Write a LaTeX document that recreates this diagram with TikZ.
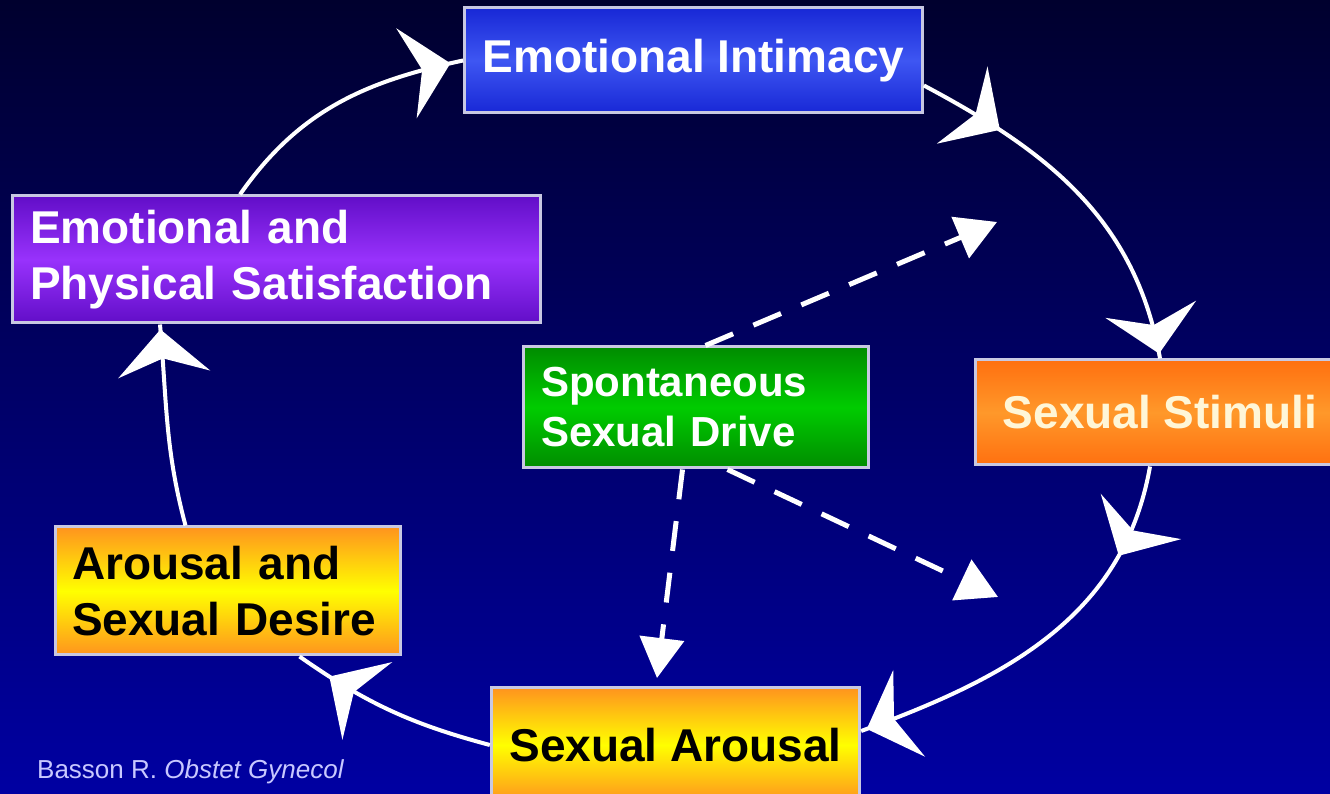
\documentclass[tikz,border=0pt]{standalone}
\usepackage{fontspec}
\setmainfont{Liberation Sans}
\usepackage{xcolor}
\usetikzlibrary{arrows.meta,decorations.markings}

\definecolor{navytop}{RGB}{0,0,46}
\definecolor{navybot}{RGB}{0,0,162}
\definecolor{eiedge}{RGB}{24,40,214}
\definecolor{eimid}{RGB}{62,86,242}
\definecolor{epsedge}{RGB}{98,14,200}
\definecolor{epsmid}{RGB}{152,50,252}
\definecolor{ssdedge}{RGB}{0,140,0}
\definecolor{ssdmid}{RGB}{0,204,0}
\definecolor{ssedge}{RGB}{255,112,16}
\definecolor{ssmid}{RGB}{255,152,42}
\definecolor{warmedge}{RGB}{255,148,30}
\definecolor{warmmid}{RGB}{255,255,0}
\definecolor{boxline}{RGB}{200,200,226}
\definecolor{citetext}{RGB}{200,200,255}
\definecolor{cream}{RGB}{255,246,215}

\begin{document}
\begin{tikzpicture}[x=1pt, y=1pt,
    stage/.style={draw=boxline, line width=3pt, inner xsep=18pt, inner ysep=0pt,
      font=\fontsize{46}{56}\selectfont\bfseries},
    cycleline/.style={draw=white, line width=4pt},
    headat/.style={postaction={decorate, decoration={markings,
      mark=at position #1 with {\arrow{Stealth[length=45pt, width=92pt, inset=16pt]}}}}},
    driveline/.style={draw=white, line width=5pt, dash pattern=on 30pt off 22pt,
      -{Triangle[length=40pt, width=44pt]}},
    cite/.style={text=citetext, font=\fontsize{26}{30}\selectfont, inner sep=0pt}]
    % page and background
    \useasboundingbox (0,0) rectangle (1330,794);
    \shade[top color=navytop, bottom color=navybot] (0,0) rectangle (1330,794);

    % stages of the cycle
    \node[stage, text=white, top color=eiedge, bottom color=eiedge, middle color=eimid,
      minimum width=445pt, minimum height=105pt] (EI) at (693.5,733.5) {Emotional Intimacy};
    \node[stage, text=white, top color=epsedge, bottom color=epsedge, middle color=epsmid,
      minimum width=528pt, minimum height=127pt, text width=492pt, align=left]
      (EPS) at (276,534.5) {Emotional and\\Physical Satisfaction};
    \node[stage, text=cream, top color=ssedge, bottom color=ssedge, middle color=ssmid,
      minimum width=370pt, minimum height=105pt] (SS) at (1160,381.5) {Sexual Stimuli};
    \node[stage, text=black, top color=warmedge, bottom color=warmedge, middle color=warmmid,
      minimum width=345pt, minimum height=128pt, inner xsep=17pt, text width=311pt, align=left]
      (AD) at (227.5,203) {Arousal and\\Sexual Desire};
    \node[stage, text=black, top color=warmedge, bottom color=warmedge, middle color=warmmid,
      minimum width=363pt, minimum height=114pt] (SA) at (675.5,49) {Sexual Arousal};

    % drive in the middle
    \node[stage, text=white, top color=ssdedge, bottom color=ssdedge, middle color=ssdmid,
      minimum width=345pt, minimum height=121pt, text width=309pt, align=left,
      font=\fontsize{42}{50}\selectfont\bfseries]
      (SSD) at (695.5,386.5) {Spontaneous\\Sexual Drive};

    % the cycle
    \draw[cycleline, headat=-13pt] ([xshift=-36pt]EPS.north) to[out=55, in=192] (EI.west);
    \draw[cycleline, headat=88pt, headat=-5pt] ([yshift=-25pt]EI.east) to[out=-28, in=100] (SS.north);
    \draw[cycleline, headat=95pt, headat=-6pt] ([xshift=-10pt]SS.south) to[out=-100, in=20] ([yshift=14pt]SA.east);
    \draw[cycleline, headat=-36pt] (SA.west) to[out=165, in=-35] ([xshift=72pt]AD.south);
    \draw[cycleline, headat=-5pt] ([xshift=-42pt]AD.north) to[out=105, in=-85] ([xshift=-116pt]EPS.south);

    % dashed arrows out of the drive
    \coordinate (dtop) at (997,572);
    \coordinate (dleft) at (657,116);
    \coordinate (dright) at (998,197);
    \draw[driveline] ([xshift=10pt]SSD.north) -- (dtop);
    \draw[driveline] ([xshift=-13pt]SSD.south) -- (dleft);
    \draw[driveline] ([xshift=32pt]SSD.south) -- (dright);

    % reference
    \node[cite, anchor=base west] (ref) at (37,15) {Basson R. \textit{Obstet Gynecol}};
    \node[cite, anchor=base west] (refyear) at (37,-20) {2001;98:350-353};
\end{tikzpicture}
\end{document}
